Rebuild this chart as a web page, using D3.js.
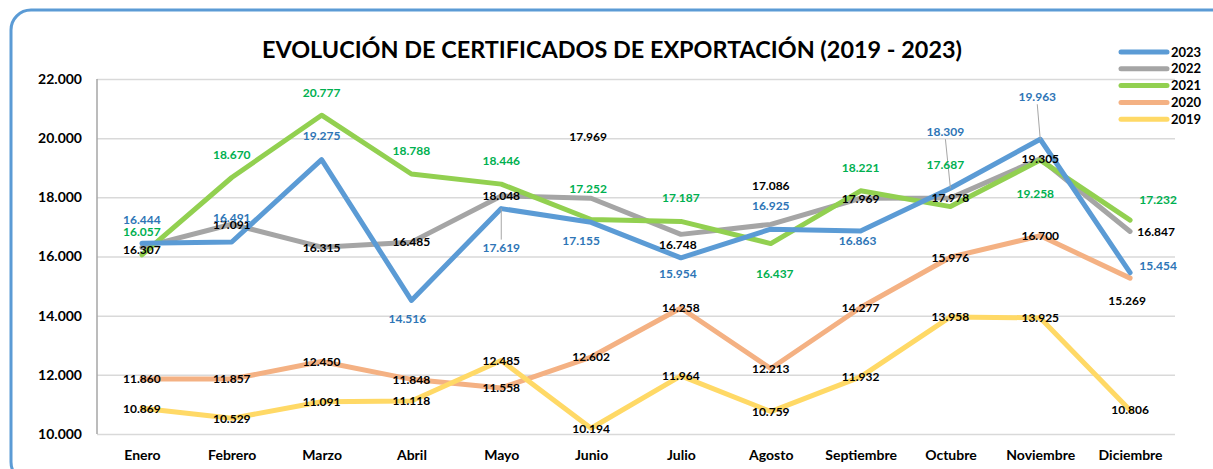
<!DOCTYPE html>
<html>
<head>
<meta charset="utf-8">
<script src="https://cdn.jsdelivr.net/npm/d3@7"></script>
<style>
	body { margin: 0; background: #fff; }
	svg text { font-family: Lato, "Open Sans", sans-serif; font-weight: bold; }
</style>
</head>
<body>
<svg id="chart" width="1213" height="469"></svg>
<script>
'use strict';

// data
const months = ["Enero", "Febrero", "Marzo", "Abril", "Mayo", "Junio", "Julio", "Agosto", "Septiembre", "Octubre", "Noviembre", "Diciembre"];
const years = ["2023", "2022", "2021", "2020", "2019"];
const values2023 = [16444, 16491, 19275, 14516, 17619, 17155, 15954, 16925, 16863, 18309, 19963, 15454];
const values2022 = [16307, 17091, 16315, 16485, 18048, 17969, 16748, 17086, 17969, 17978, 19305, 16847];
const values2021 = [16057, 18670, 20777, 18788, 18446, 17252, 17187, 16437, 18221, 17687, 19258, 17232];
const values2020 = [11860, 11857, 12450, 11848, 11558, 12602, 14258, 12213, 14277, 15976, 16700, 15269];
const values2019 = [10869, 10529, 11091, 11118, 12485, 10194, 11964, 10759, 11932, 13958, 13925, 10806];
const yTicks = [10000, 12000, 14000, 16000, 18000, 20000, 22000];

// manual label placement (dx, dy, leader line) like the excel original
const labelPos2023 = [[0,-24],[0,-24],[0,-24],[-4,18],[0,39,1],[-10,18],[-3,16],[0,-23],[-3,10],[-5,-57,1],[-3,-43,1],[28,-7]];
const labelPos2022 = [[0,2],[0,0],[0,0],[0,0],[0,0],[-3,-62],[-3,10],[0,-39],[0,0],[0,0],[0,0],[26,0]];
const labelPos2021 = [[0,-23],[0,-23],[0,-23],[0,-23],[0,-23],[-3,-31],[0,-24],[4,30],[0,-23],[-5,-42],[-5,34],[28,-20]];
const labelPos2020 = [[0,0],[0,0],[0,0],[0,0],[0,0],[0,0],[0,0],[0,0],[0,0],[0,0],[0,0],[-3,23]];
const labelPos2019 = [[0,0],[0,0],[0,0],[0,0],[0,0],[0,0],[0,0],[0,0],[0,0],[0,0],[0,0],[0,0]];

const series = [
	{name: "2020", values: values2020, color: "#f4b183", label: "#000", pos: labelPos2020},
	{name: "2019", values: values2019, color: "#ffd966", label: "#000", pos: labelPos2019},
	{name: "2022", values: values2022, color: "#a5a5a5", label: "#000", pos: labelPos2022},
	{name: "2021", values: values2021, color: "#92d050", label: "#00b050", pos: labelPos2021},
	{name: "2023", values: values2023, color: "#5b9bd5", label: "#2e75b6", pos: labelPos2023}
];

const numFmt = d3.formatLocale({decimal: ",", thousands: ".", grouping: [3], currency: ["$", ""]}).format(",d");

function drawChart(svgName) {
	let svg = d3.select(svgName);

	// rounded frame
	svg.append("rect")
		.attr("x", 11).attr("y", 10)
		.attr("width", 1232).attr("height", 472)
		.attr("rx", 20)
		.attr("fill", "none")
		.attr("stroke", "#5b9bd5")
		.attr("stroke-width", 3);

	svg.append("text")
		.attr("x", 612).attr("y", 58)
		.attr("text-anchor", "middle")
		.attr("font-size", 23)
		.attr("textLength", 700)
		.attr("lengthAdjust", "spacingAndGlyphs")
		.attr("fill", "#000")
		.text("EVOLUCIÓN DE CERTIFICADOS DE EXPORTACIÓN (2019 - 2023)");

	let x = d3.scalePoint()
		.domain(months)
		.range([97, 1175])
		.padding(0.5);

	let y = d3.scaleLinear()
		.domain([10000, 22000])
		.range([434, 79]);

	// gridlines + y labels
	let gy = svg.append("g")
		.attr("transform", "translate(97,0)")
		.call(d3.axisLeft(y).tickValues(yTicks).tickFormat(numFmt).tickSize(-1078).tickPadding(15));
	gy.select(".domain").remove();
	gy.selectAll("line").attr("stroke", "#d9d9d9").attr("stroke-width", 1.5);
	gy.selectAll("text").attr("font-size", 14).attr("fill", "#000").attr("font-family", null);

	svg.append("line")
		.attr("x1", 97).attr("x2", 97)
		.attr("y1", y(22000)).attr("y2", y(10000))
		.attr("stroke", "#a6a6a6").attr("stroke-width", 1.5);

	let gx = svg.append("g")
		.attr("transform", "translate(0,434)")
		.call(d3.axisBottom(x).tickSize(0).tickPadding(16));
	gx.select(".domain").remove();
	gx.selectAll("text").attr("font-size", 14).attr("fill", "#000").attr("font-family", null);

	let line = d3.line()
		.x(function (d, i) { return x(months[i]); })
		.y(function (d) { return y(d); });

	for (let s of series) {
		svg.append("path")
			.datum(s.values)
			.attr("d", line)
			.attr("fill", "none")
			.attr("stroke", s.color)
			.attr("stroke-width", 5)
			.attr("stroke-linejoin", "round")
			.attr("stroke-linecap", "round");
	}

	// leader lines, then labels
	for (let s of series) {
		s.values.forEach(function (v, i) {
			let p = s.pos[i];
			if (p[2]) {
				let lx = x(months[i]) + p[0];
				let ly = y(v) + p[1];
				svg.append("line")
					.attr("x1", lx).attr("y1", ly + (p[1] > 0 ? -8 : 8))
					.attr("x2", x(months[i])).attr("y2", y(v))
					.attr("stroke", "#a6a6a6").attr("stroke-width", 1);
			}
		});
	}
	for (let s of series) {
		svg.append("g").selectAll("text")
			.data(s.values)
			.enter().append("text")
			.attr("x", function (d, i) { return x(months[i]) + s.pos[i][0]; })
			.attr("y", function (d, i) { return y(d) + s.pos[i][1]; })
			.attr("dy", "0.36em")
			.attr("text-anchor", "middle")
			.attr("font-size", 12)
			.attr("fill", s.label)
			.text(function (d) { return numFmt(d); });
	}

	// legend
	let colorOf = {};
	for (let s of series) {
		colorOf[s.name] = s.color;
	}
	let lg = svg.append("g").selectAll("g")
		.data(years)
		.enter().append("g")
		.attr("transform", function (d, i) { return "translate(1121," + (52 + i * 16.8) + ")"; });
	lg.append("line")
		.attr("x1", 0).attr("x2", 46)
		.attr("stroke", function (d) { return colorOf[d]; })
		.attr("stroke-width", 5)
		.attr("stroke-linecap", "round");
	lg.append("text")
		.attr("x", 50)
		.attr("dy", "0.36em")
		.attr("font-size", 13)
		.attr("fill", "#000")
		.text(function (d) { return d; });
}

drawChart("#chart");
</script>
</body>
</html>
